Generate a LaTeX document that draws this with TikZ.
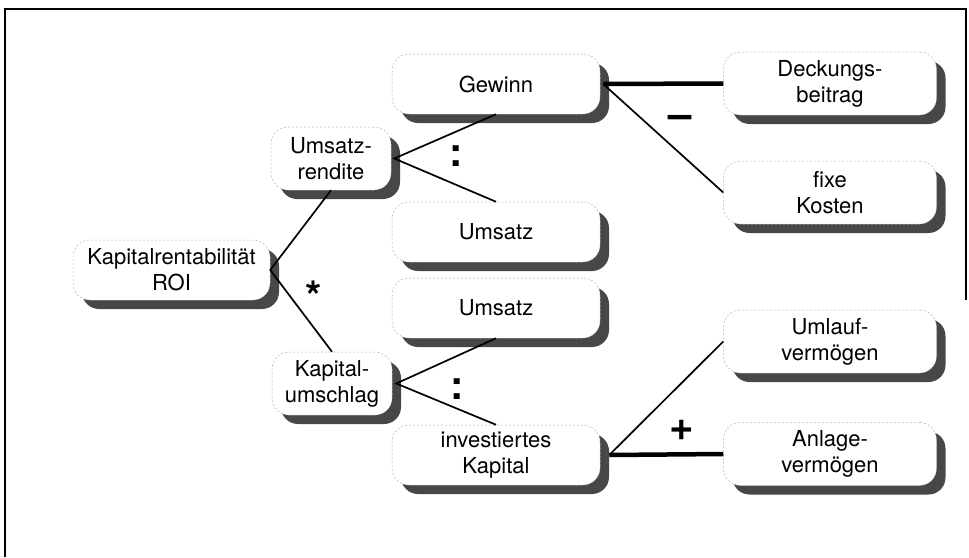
\documentclass[tikz,border=0pt]{standalone}
\usepackage{fontspec}
\setmainfont{TeX Gyre Heros}
\usetikzlibrary{shadows}
\begin{document}
\begin{tikzpicture}[x=1pt,y=-1pt,
  box/.style={rounded corners=17pt, fill=white, draw=black!30, line width=0.5pt,
    dash pattern=on 2pt off 2pt, align=center, inner sep=0pt,
    font=\fontsize{22}{26}\selectfont,
    drop shadow={shadow xshift=9pt, shadow yshift=-9pt, fill=black!72, opacity=1}},
  midbox/.style={box, minimum width=208pt, minimum height=60pt},
  sidebox/.style={box, minimum width=213pt, minimum height=63pt},
  smallbox/.style={box, minimum width=120pt, minimum height=63pt},
  thin/.style={line width=1.7pt},
  thick/.style={line width=4.5pt},
  sym/.style={inner sep=0pt}]
\useasboundingbox (0,0) rectangle (969,557);
% frame, open at the bottom
\draw[line width=2.8pt] (5,557) -- (5,9) -- (966,9) -- (966,300);

% root and first level
\node[box, minimum width=197pt, minimum height=60pt] (roi) at (171.5,270) {Kapitalrentabilität\\ROI};
\node[smallbox] (ur) at (331,158.5) {Umsatz-\\rendite};
\node[smallbox] (ku) at (332,383.5) {Kapital-\\umschlag};

% second level
\node[midbox] (gew) at (496,84) {Gewinn};
\node[midbox] (ums1) at (496,232) {Umsatz};
\node[midbox] (ums2) at (496,308) {Umsatz};
\node[midbox] (inv) at (496,455) {investiertes\\Kapital};

% third level
\node[sidebox] (db) at (830,83.5) {Deckungs-\\beitrag};
\node[sidebox] (fk) at (830,192.5) {fixe\\Kosten};
\node[sidebox] (ulv) at (830,341.5) {Umlauf-\\vermögen};
\node[sidebox] (alv) at (830,454) {Anlage-\\vermögen};

% connectors
\draw[thin] (ur.south) -- (roi.east) -- (ku.north);
\draw[thin] (gew.south) -- ([xshift=3pt]ur.east) -- (ums1.north);
\draw[thin] (ums2.south) -- ([xshift=4pt]ku.east) -- (inv.north);
\draw[thick] ([xshift=3pt]gew.east) -- (db.west);
\draw[thin] ([xshift=3pt]gew.east) -- (fk.west);
\draw[thin] ([xshift=9pt]inv.east) -- (ulv.west);
\draw[thick] ([xshift=9pt]inv.east) -- (alv.west);

% operators
\node[sym, font=\fontsize{42}{42}\selectfont\bfseries] (op1) at (314,296) {*};
\node[sym, font=\fontsize{40}{40}\selectfont\bfseries] (op2) at (456,156) {:};
\node[sym, font=\fontsize{40}{40}\selectfont\bfseries] (op3) at (457,389) {:};
\node[sym, font=\fontsize{42}{42}\selectfont\bfseries] (op4) at (680,122) {–};
\node[sym, font=\fontsize{42}{42}\selectfont\bfseries] (op5) at (682,430) {+};
\end{tikzpicture}
\end{document}
